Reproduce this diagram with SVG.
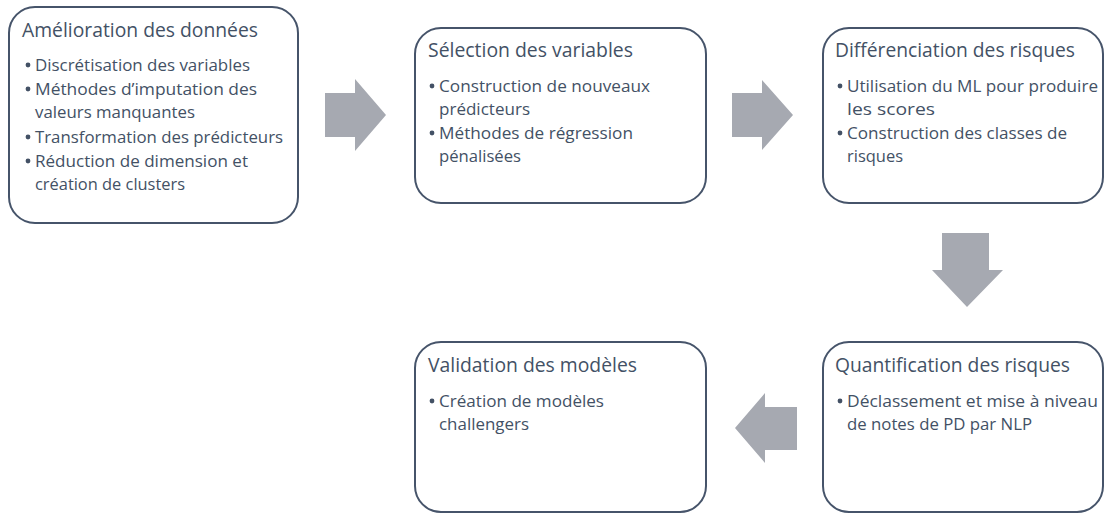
<svg xmlns="http://www.w3.org/2000/svg" width="1105" height="515" viewBox="0 0 1105 515">
<style>
.box{fill:#ffffff;stroke:#46546a;stroke-width:2}
.t{font-family:"Open Sans","Liberation Sans",sans-serif;fill:#435165}
.h{font-size:20.5px}
.b{font-size:17px}
.dot{fill:#435165}
.arr{fill:#a6a9b1}
</style>
<rect width="1105" height="515" fill="#ffffff"/>
<g id="connectors">
<polygon class="arr" points="325,93 355,93 355,79 386,115 355,151 355,137 325,137"/>
<polygon class="arr" points="732,93 762,93 762,80 793,115 762,150 762,137 732,137"/>
<polygon class="arr" points="942,233 989,233 989,270 1003,270 967,307 932,270 942,270"/>
<polygon class="arr" points="797,407 765,407 765,393 735,428 765,463 765,450 797,450"/>
</g>
<g id="node1">
<rect class="box" x="9" y="7" width="289" height="216" rx="26"/>
<text class="t h" x="22" y="37" textLength="236" lengthAdjust="spacingAndGlyphs">Amélioration des données</text>
<circle class="dot" cx="28" cy="65" r="2.4"/>
<text class="t b" x="35" y="71" textLength="215" lengthAdjust="spacingAndGlyphs">Discrétisation des variables</text>
<circle class="dot" cx="28" cy="89" r="2.4"/>
<text class="t b" x="35" y="95" textLength="222" lengthAdjust="spacingAndGlyphs">Méthodes d’imputation des</text>
<text class="t b" x="35" y="118" textLength="160" lengthAdjust="spacingAndGlyphs">valeurs manquantes</text>
<circle class="dot" cx="28" cy="137" r="2.4"/>
<text class="t b" x="35" y="143" textLength="248" lengthAdjust="spacingAndGlyphs">Transformation des prédicteurs</text>
<circle class="dot" cx="28" cy="161" r="2.4"/>
<text class="t b" x="35" y="167" textLength="213" lengthAdjust="spacingAndGlyphs">Réduction de dimension et</text>
<text class="t b" x="35" y="190" textLength="150" lengthAdjust="spacingAndGlyphs">création de clusters</text>
</g>
<g id="node2">
<rect class="box" x="415" y="28" width="291" height="175" rx="26"/>
<text class="t h" x="428" y="57" textLength="205" lengthAdjust="spacingAndGlyphs">Sélection des variables</text>
<circle class="dot" cx="432" cy="86" r="2.4"/>
<text class="t b" x="439" y="92" textLength="211" lengthAdjust="spacingAndGlyphs">Construction de nouveaux</text>
<text class="t b" x="439" y="115" textLength="91" lengthAdjust="spacingAndGlyphs">prédicteurs</text>
<circle class="dot" cx="432" cy="133" r="2.4"/>
<text class="t b" x="439" y="139" textLength="194" lengthAdjust="spacingAndGlyphs">Méthodes de régression</text>
<text class="t b" x="439" y="162" textLength="82" lengthAdjust="spacingAndGlyphs">pénalisées</text>
</g>
<g id="node3">
<rect class="box" x="823" y="28" width="280" height="175" rx="26"/>
<text class="t h" x="835" y="57" textLength="240" lengthAdjust="spacingAndGlyphs">Différenciation des risques</text>
<circle class="dot" cx="840" cy="86" r="2.4"/>
<text class="t b" x="847" y="92" textLength="251" lengthAdjust="spacingAndGlyphs">Utilisation du ML pour produire</text>
<text class="t b" x="847" y="115" textLength="88" lengthAdjust="spacingAndGlyphs">les scores</text>
<circle class="dot" cx="840" cy="133" r="2.4"/>
<text class="t b" x="847" y="139" textLength="220" lengthAdjust="spacingAndGlyphs">Construction des classes de</text>
<text class="t b" x="847" y="162" textLength="56" lengthAdjust="spacingAndGlyphs">risques</text>
</g>
<g id="node4">
<rect class="box" x="823" y="342" width="280" height="170" rx="26"/>
<text class="t h" x="835" y="372" textLength="235" lengthAdjust="spacingAndGlyphs">Quantification des risques</text>
<circle class="dot" cx="840" cy="401" r="2.4"/>
<text class="t b" x="847" y="407" textLength="251" lengthAdjust="spacingAndGlyphs">Déclassement et mise à niveau</text>
<text class="t b" x="847" y="430" textLength="185" lengthAdjust="spacingAndGlyphs">de notes de PD par NLP</text>
</g>
<g id="node5">
<rect class="box" x="415" y="342" width="291" height="170" rx="26"/>
<text class="t h" x="428" y="372" textLength="209" lengthAdjust="spacingAndGlyphs">Validation des modèles</text>
<circle class="dot" cx="432" cy="401" r="2.4"/>
<text class="t b" x="439" y="407" textLength="165" lengthAdjust="spacingAndGlyphs">Création de modèles</text>
<text class="t b" x="439" y="430" textLength="90" lengthAdjust="spacingAndGlyphs">challengers</text>
</g>
</svg>
